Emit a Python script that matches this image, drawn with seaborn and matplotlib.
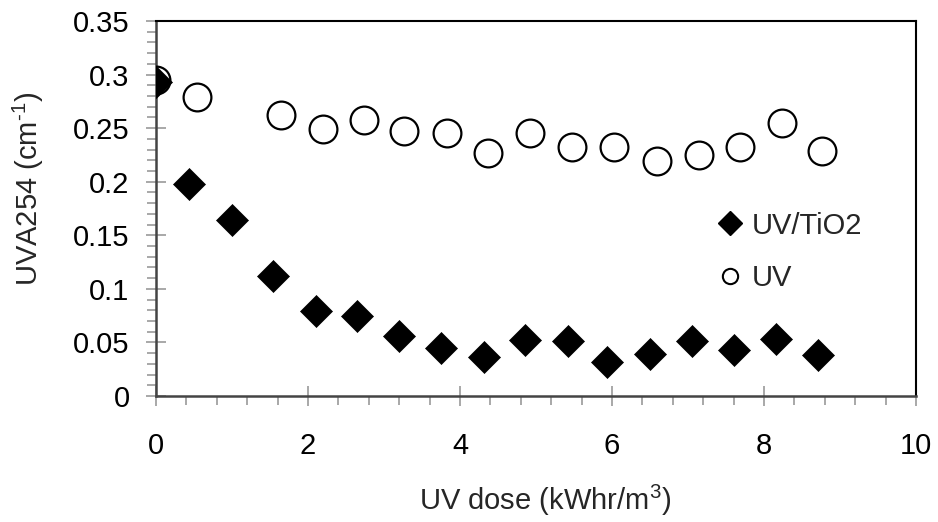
import numpy as np
import pandas as pd
import matplotlib
matplotlib.use('Agg')
import matplotlib.pyplot as plt
import seaborn as sns
from matplotlib.ticker import MultipleLocator
from matplotlib.lines import Line2D

# UV/TiO2 series (diamonds)
dose_tio2 = [0.0, 0.44, 1.0, 1.54, 2.10, 2.65, 3.20, 3.75, 4.31, 4.86,
             5.42, 5.94, 6.50, 7.05, 7.60, 8.16, 8.71]
uva_tio2 = [0.293, 0.198, 0.164, 0.112, 0.079, 0.075, 0.056, 0.045, 0.036, 0.052,
            0.051, 0.032, 0.039, 0.051, 0.043, 0.053, 0.038]

# UV only series (open circles)
dose_uv = [0.0, 0.54, 1.65, 2.20, 2.74, 3.27, 3.83, 4.37, 4.92,
           5.48, 6.03, 6.59, 7.14, 7.68, 8.24, 8.77]
uva_uv = [0.295, 0.279, 0.262, 0.249, 0.258, 0.247, 0.245, 0.227, 0.245,
          0.232, 0.232, 0.219, 0.225, 0.232, 0.255, 0.229]

x_ticks = [0, 2, 4, 6, 8, 10]
y_ticks = [0, 0.05, 0.1, 0.15, 0.2, 0.25, 0.3, 0.35]
y_ticklabels = ['0', '0.05', '0.1', '0.15', '0.2', '0.25', '0.3', '0.35']

sns.set_style('ticks')
plt.rcParams['font.family'] = ['Liberation Sans', 'DejaVu Sans']
plt.rcParams['mathtext.fontset'] = 'custom'
plt.rcParams['mathtext.rm'] = 'Liberation Sans'
plt.rcParams['mathtext.it'] = 'Liberation Sans'

fig = plt.figure(figsize=(9.38, 5.22), dpi=100)
ax = fig.add_axes([0.1663, 0.2414, 0.8102, 0.7184])

df_uv = pd.DataFrame({'dose': dose_uv, 'uva': uva_uv})
df_tio2 = pd.DataFrame({'dose': dose_tio2, 'uva': uva_tio2})

sns.scatterplot(data=df_uv, x='dose', y='uva', marker='o', s=400,
                facecolor='white', edgecolor='black', linewidth=1.6,
                ax=ax, zorder=3)
sns.scatterplot(data=df_tio2, x='dose', y='uva', marker='D', s=265,
                color='black', edgecolor='black', linewidth=0.5,
                ax=ax, zorder=4)

ax.set_xlim(0, 10)
ax.set_ylim(0, 0.35)
ax.set_xticks(x_ticks)
ax.set_yticks(y_ticks)
ax.set_xticklabels([str(t) for t in x_ticks])
ax.set_yticklabels(y_ticklabels)
ax.xaxis.set_minor_locator(MultipleLocator(0.4))
ax.yaxis.set_minor_locator(MultipleLocator(0.01))

ax.tick_params(which='major', direction='inout', length=14, width=1.2,
               color='#999999', labelsize=21, labelcolor='black')
ax.tick_params(axis='x', which='major', pad=19)
ax.tick_params(axis='y', which='major', pad=12)
ax.tick_params(which='minor', direction='out', length=6.5, width=1.2,
               color='#999999')

for side in ['top', 'right']:
    ax.spines[side].set_color('black')
    ax.spines[side].set_linewidth(1.5)
for side in ['left', 'bottom']:
    ax.spines[side].set_color('#444444')
    ax.spines[side].set_linewidth(1.8)

ax.set_xlabel('UV dose (kWhr/m$^3$)', fontsize=21)
ax.set_ylabel(r'UVA254 (cm$^{\text{-}1}$)', fontsize=21)
ax.xaxis.set_label_coords(0.512, -0.232)
ax.yaxis.set_label_coords(-0.145, 0.553)

handles = [
    Line2D([], [], marker='D', linestyle='none', markersize=12.5,
           markerfacecolor='black', markeredgecolor='black'),
    Line2D([], [], marker='o', linestyle='none', markersize=11,
           markerfacecolor='white', markeredgecolor='black', markeredgewidth=1.5),
]
ax.legend(handles, ['UV/TiO2', 'UV'], loc='center left',
          bbox_to_anchor=(0.736, 0.384), frameon=False, fontsize=21,
          handlelength=1.0, handletextpad=0.25, labelspacing=0.85,
          borderpad=0, borderaxespad=0)

fig.savefig('out.png', dpi=100)
